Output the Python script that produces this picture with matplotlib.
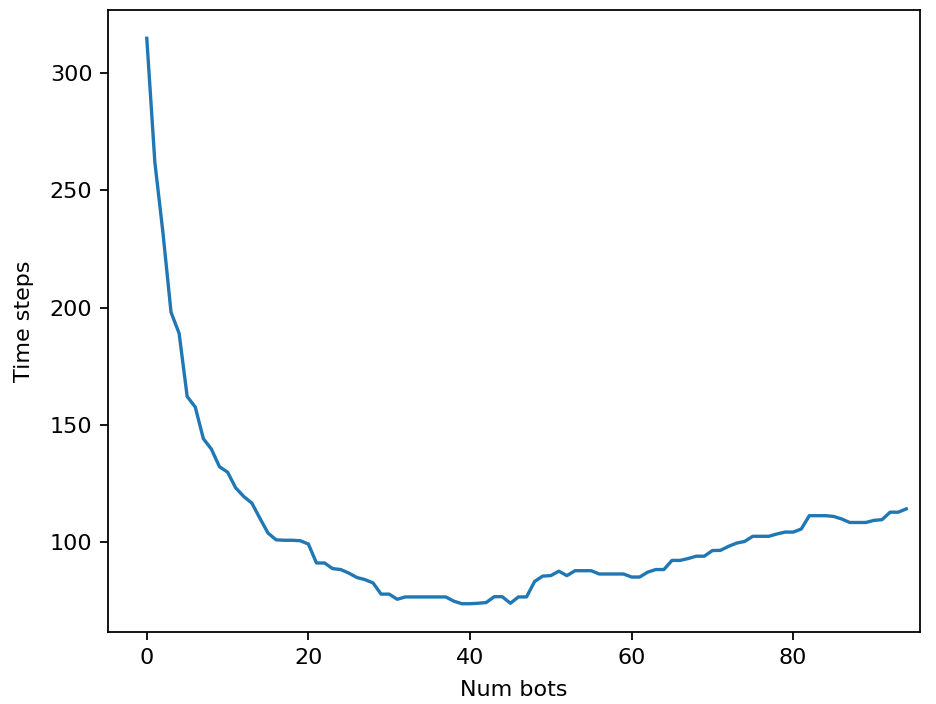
import matplotlib
matplotlib.use("Agg")
import matplotlib.pyplot as plt
import numpy as np

# time steps needed vs number of bots
num_bots = list(range(95))
time_steps = [
    315, 262, 232, 198, 189, 162, 157.5, 144, 139.5, 132,
    129.7, 123, 119.3, 116.5, 110, 103.7, 100.8, 100.6, 100.6, 100.4,
    99, 90.9, 90.9, 88.5, 88.1, 86.6, 84.7, 83.8, 82.4, 77.6,
    77.6, 75.4, 76.4, 76.4, 76.4, 76.4, 76.4, 76.4, 74.6, 73.5,
    73.5, 73.7, 74, 76.5, 76.5, 73.7, 76.4, 76.4, 83, 85.3,
    85.5, 87.4, 85.5, 87.6, 87.6, 87.6, 86.2, 86.2, 86.2, 86.2,
    84.9, 84.9, 87, 88.1, 88.1, 92, 92, 92.8, 93.8, 93.8,
    96.2, 96.3, 98, 99.4, 100.1, 102.3, 102.3, 102.3, 103.3, 104.1,
    104.1, 105.4, 111.1, 111.1, 111.1, 110.8, 109.7, 108.2, 108.2, 108.2,
    109.1, 109.4, 112.6, 112.6, 114,
]

dpi = 160
fig = plt.figure(figsize=(936 / dpi, 704 / dpi), dpi=dpi)
ax = fig.add_axes([108 / 936, 72 / 704, 812 / 936, 622 / 704])

ax.plot(num_bots, time_steps)
ax.set_xlim(-4.8, 95.7)
ax.set_xlabel('Num bots', labelpad=5.5)
ax.set_ylabel('Time steps', labelpad=7)

fig.savefig('out.png', dpi=dpi)
